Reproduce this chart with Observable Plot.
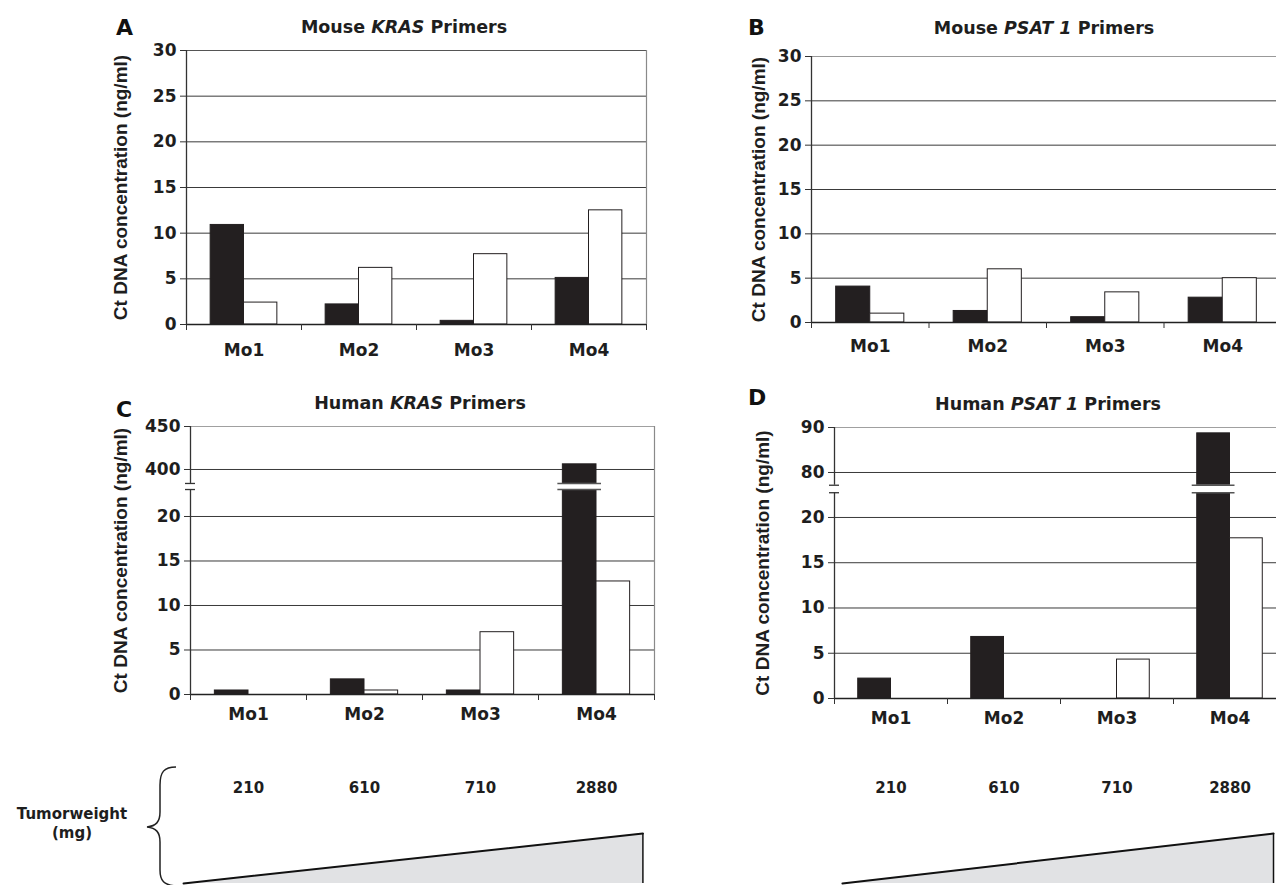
<!DOCTYPE html>
<html><head><meta charset="utf-8">
<script src="https://cdn.jsdelivr.net/npm/d3@7"></script>
<script src="https://cdn.jsdelivr.net/npm/@observablehq/plot@0.6"></script>
<style>
html,body{margin:0;padding:0;background:#fff;overflow:hidden}
#chart{position:relative;width:1276px;height:885px;overflow:hidden;background:#fff}
#chart > svg{position:absolute;margin:0}
</style></head><body><div id="chart"></div>
<script>
// ---- data ----
const categories = ["Mo1", "Mo2", "Mo3", "Mo4"];
const mouseKrasBlack = [10.9, 2.2, 0.4, 5.1];
const mouseKrasWhite = [2.4, 6.2, 7.7, 12.5];
const mousePsatBlack = [4.05, 1.3, 0.6, 2.8];
const mousePsatWhite = [1.0, 6.0, 3.4, 5.0];
const humanKrasBlack = [0.45, 1.7, 0.45, 406];
const humanKrasWhite = [0, 0.45, 7.0, 12.7];
const humanPsatBlack = [2.2, 6.8, 0, 88.7];
const humanPsatWhite = [0, 0, 4.3, 17.7];
const tumorWeight = [210, 610, 710, 2880];
const yTicksMouse = [0, 5, 10, 15, 20, 25, 30];
const yTicksHumanKras = [0, 5, 10, 15, 20, 400, 450];
const yTicksHumanPsat = [0, 5, 10, 15, 20, 80, 90];
const yLabel = "Ct DNA concentration (ng/ml)";
const weightLabel = ["Tumorweight", "(mg)"];

// ---- broken-axis transforms (value -> display units of the lower segment) ----
function brokenAxis(lowTop, highBottom, gapUnits, highUnitsPerValue) {
  return v => v <= lowTop ? v
    : v < highBottom ? lowTop + (v - lowTop) * gapUnits / (highBottom - lowTop)
    : lowTop + gapUnits + (v - highBottom) * highUnitsPerValue;
}
const krasAxis = brokenAxis(20, 400, 5.28, 4.83 / 50);
const psatAxis = brokenAxis(20, 80, 4.97, 4.97 / 10);

// ---- style / layout constants ----
const BLACK = "#231f20";
const TXT = "DejaVu Sans, sans-serif";
const LBL = "Liberation Sans, Arial, sans-serif";
const BAR_START = 0.21, BAR_MID = 0.5, BAR_END = 0.79;
const chart = document.getElementById("chart");

function panel(cfg) {
  const rows = [];
  categories.forEach((c, i) => {
    rows.push({i, cat: c, series: "black", value: cfg.black[i]});
    rows.push({i, cat: c, series: "white", value: cfg.white[i]});
  });
  const bars = rows.filter(d => d.value > 0);
  const yTop = cfg.yTicks[cfg.yTicks.length - 1];
  const inner = cfg.yTicks.filter(t => t > 0 && t < yTop);
  const px = 4 / cfg.plotWidth; // one pixel in x units
  const marks = [
    Plot.ruleY(inner, {x1: 0, x2: 4, stroke: "#3a3a3a", strokeWidth: 1}),
    Plot.ruleY([yTop], {x1: 0, x2: 4, stroke: cfg.topColor, strokeWidth: 1}),
    Plot.ruleX([4], {y1: 0, y2: yTop, stroke: "#8a8a8a", strokeWidth: 1.2}),
    Plot.rect(bars, {
      x1: d => d.i + (d.series === "black" ? BAR_START : BAR_MID),
      x2: d => d.i + (d.series === "black" ? BAR_MID : BAR_END),
      y1: 0, y2: "value",
      fill: d => d.series === "black" ? BLACK : "#ffffff",
      stroke: BLACK, strokeWidth: 1
    }),
    Plot.ruleY([0], {x1: 0, x2: 4, stroke: "#222", strokeWidth: 1.3})
  ];
  if (cfg.axisBreak) {
    const [b0, b1] = cfg.axisBreak;
    const tall = bars.filter(d => d.value > b1);
    const pairs = cfg.axisBreak.flatMap(b => tall.map(d => ({d, b})));
    marks.push(
      Plot.ruleX([0], {y1: 0, y2: b0, stroke: "#333", strokeWidth: 1.3}),
      Plot.ruleX([0], {y1: b1, y2: yTop, stroke: "#333", strokeWidth: 1.3}),
      Plot.ruleY(cfg.axisBreak, {x1: -5 * px, x2: 5 * px, stroke: "#333", strokeWidth: 1.3}),
      Plot.rect(tall, {x1: d => d.i + BAR_START - 5 * px, x2: d => d.i + BAR_MID + 5 * px, y1: b0, y2: b1, fill: "#fff"}),
      Plot.ruleY(pairs, {
        y: "b", x1: o => o.d.i + BAR_START - 5 * px, x2: o => o.d.i + BAR_MID + 5 * px,
        stroke: "#555", strokeWidth: 1.6
      })
    );
  } else {
    marks.push(Plot.ruleX([0], {y1: 0, y2: yTop, stroke: "#333", strokeWidth: 1.3}));
  }
  marks.push(
    Plot.ruleY(cfg.yTicks, {x1: -6 * px, x2: 0, stroke: "#333", strokeWidth: 1}),
    Plot.text(cfg.yTicks, {y: d => d, x: 0, dx: -10, textAnchor: "end", text: d => String(d),
      fontSize: 17, fontFamily: TXT, fontWeight: "bold", fill: "#1e1e1e"}),
    Plot.axisY({ticks: [], tickSize: 0, label: yLabel, labelAnchor: "center", labelArrow: "none",
      labelOffset: cfg.labelOffset, fontSize: 19, fontFamily: LBL, fontWeight: "bold", fill: "#1e1e1e"}),
    Plot.axisX({ticks: [0, 1, 2, 3, 4], tickSize: 6, tickFormat: () => "", label: null, stroke: "#333"}),
    Plot.axisX({ticks: [0.5, 1.5, 2.5, 3.5], tickSize: 0, tickPadding: cfg.catPadding,
      tickFormat: d => categories[Math.floor(d)], label: null,
      fontSize: 17, fontFamily: TXT, fontWeight: "bold", fill: "#1e1e1e"})
  );
  const yScale = {domain: cfg.yDomain};
  if (cfg.transform) yScale.transform = cfg.transform;
  const svg = Plot.plot({
    width: cfg.width, height: cfg.height,
    marginLeft: cfg.marginLeft, marginRight: cfg.width - cfg.marginLeft - cfg.plotWidth,
    marginTop: cfg.marginTop, marginBottom: cfg.marginBottom,
    x: {domain: [0, 4]},
    y: yScale,
    style: {background: "transparent", overflow: "visible"},
    marks
  });
  svg.style.left = cfg.left + "px";
  svg.style.top = cfg.top + "px";
  chart.appendChild(svg);
}

panel({black: mouseKrasBlack, white: mouseKrasWhite, yTicks: yTicksMouse, yDomain: [0, 30],
  left: 0, top: 0, width: 700, height: 372, marginLeft: 186, plotWidth: 460, marginTop: 50, marginBottom: 48,
  labelOffset: 73, catPadding: 19, topColor: "#555"});
panel({black: mousePsatBlack, white: mousePsatWhite, yTicks: yTicksMouse, yDomain: [0, 30],
  left: 640, top: 0, width: 660, height: 372, marginLeft: 171, plotWidth: 470, marginTop: 56, marginBottom: 50,
  labelOffset: 60, catPadding: 17, topColor: "#999"});
panel({black: humanKrasBlack, white: humanKrasWhite, yTicks: yTicksHumanKras,
  yDomain: [0, krasAxis(450)], transform: krasAxis, axisBreak: [238, 287],
  left: 0, top: 380, width: 700, height: 360, marginLeft: 190, plotWidth: 464, marginTop: 46, marginBottom: 46,
  labelOffset: 77, catPadding: 13, topColor: "#a0a0a0"});
panel({black: humanPsatBlack, white: humanPsatWhite, yTicks: yTicksHumanPsat,
  yDomain: [0, psatAxis(90)], transform: psatAxis, axisBreak: [53, 63],
  left: 640, top: 380, width: 660, height: 360, marginLeft: 194, plotWidth: 452, marginTop: 47, marginBottom: 42,
  labelOffset: 79, catPadding: 13, topColor: "#a0a0a0"});

// tumor weight rows with increasing wedge
function weights(cfg) {
  const svg = Plot.plot({
    width: cfg.width, height: 145,
    marginLeft: cfg.marginLeft, marginRight: cfg.width - cfg.marginLeft - cfg.plotWidth,
    marginTop: 48, marginBottom: 2,
    x: {domain: [0, 4], axis: null},
    y: {domain: [0, 1], range: [143, 93], axis: null},
    style: {background: "transparent", overflow: "visible"},
    marks: [
      Plot.text(tumorWeight, {x: (d, i) => i + 0.5, frameAnchor: "top", lineAnchor: "middle",
        text: d => String(d), fontSize: 15, fontFamily: TXT, fontWeight: "bold", fill: "#1e1e1e"}),
      Plot.areaY(cfg.wedge, {x: "x", y1: 0, y2: "h", fill: "#e1e2e4"}),
      Plot.line(cfg.wedge, {x: "x", y: "h", stroke: "#111", strokeWidth: 2}),
      Plot.ruleX(cfg.wedge.slice(-1), {x: "x", y1: 0, y2: "h", stroke: "#111", strokeWidth: 1.5})
    ]
  });
  svg.style.left = cfg.left + "px";
  svg.style.top = "740px";
  chart.appendChild(svg);
}
weights({left: 0, width: 700, marginLeft: 190, plotWidth: 464, wedge: [{x: -0.06, h: 0}, {x: 3.9, h: 1}]});
weights({left: 640, width: 660, marginLeft: 194, plotWidth: 452, wedge: [{x: 0.07, h: 0}, {x: 3.885, h: 1}]});

// titles, panel letters, brace
const NS = "http://www.w3.org/2000/svg";
const ov = document.createElementNS(NS, "svg");
ov.setAttribute("width", 1276); ov.setAttribute("height", 885);
ov.style.left = "0px"; ov.style.top = "0px";
ov.style.pointerEvents = "none";
const titles = [
  {pre: "Mouse ", gene: "KRAS", post: " Primers", x: 404, y: 33},
  {pre: "Mouse ", gene: "PSAT 1", post: " Primers", x: 1044, y: 34},
  {pre: "Human ", gene: "KRAS", post: " Primers", x: 420, y: 409},
  {pre: "Human ", gene: "PSAT 1", post: " Primers", x: 1048, y: 410}
];
const letters = [{t: "A", x: 116, y: 35}, {t: "B", x: 748, y: 35}, {t: "C", x: 116, y: 417}, {t: "D", x: 748, y: 405}];
let html = "";
for (const t of titles) {
  html += `<text x="${t.x}" y="${t.y}" text-anchor="middle" font-family="${TXT}" font-weight="bold" font-size="17.5" fill="#1e1e1e">${t.pre}<tspan font-style="italic">${t.gene}</tspan>${t.post}</text>`;
}
for (const l of letters) {
  html += `<text x="${l.x}" y="${l.y}" font-family="${TXT}" font-weight="bold" font-size="22" fill="#111">${l.t}</text>`;
}
html += `<text x="72" y="819" text-anchor="middle" font-family="${TXT}" font-weight="bold" font-size="15" fill="#1e1e1e">${weightLabel[0]}</text>`;
html += `<text x="72" y="838" text-anchor="middle" font-family="${TXT}" font-weight="bold" font-size="15" fill="#1e1e1e">${weightLabel[1]}</text>`;
html += `<path d="M176 767 C164 767 160 772 160 785 L160 812 C160 822 156 826 147 827 C156 828 160 832 160 842 L160 870 C160 881 164 885 176 886" fill="none" stroke="#222" stroke-width="1.5"/>`;
ov.innerHTML = html;
chart.appendChild(ov);
</script></body></html>
